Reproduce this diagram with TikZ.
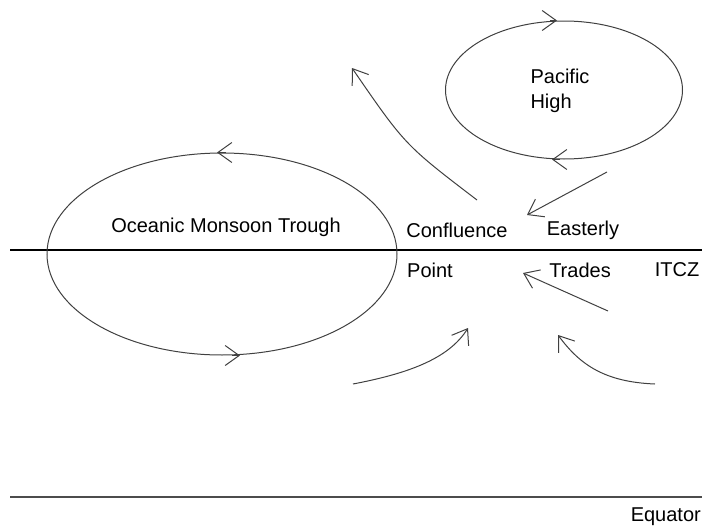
\documentclass[tikz,border=0pt]{standalone}
\usepackage{fontspec}
\setmainfont{Liberation Sans}
\usetikzlibrary{shapes.geometric, arrows.meta}

\begin{document}
\begin{tikzpicture}[x=1pt, y=-1pt]
\tikzstyle{ring}=[ellipse, draw=black!75, line width=1pt, inner sep=0pt]
\tikzstyle{flow}=[draw=black!75, line width=1pt, -{Straight Barb[length=14pt, width=20pt]}]
\tikzstyle{label}=[font=\fontsize{20}{25}\selectfont, inner sep=0pt]
\useasboundingbox (0,0) rectangle (702,530);
% boundary lines
\coordinate (I_0) at (10,250);
\coordinate (I_1) at (702,250);
\coordinate (E_0) at (10,497);
\coordinate (E_1) at (702,497);
\draw[line width=2.4pt] (I_0) -- (I_1);
\draw[black!70, line width=1.4pt] (E_0) -- (E_1);
% circulations
\node[ring, minimum width=350pt, minimum height=202pt] (MT) at (222,254) {};
\node[ring, minimum width=237pt, minimum height=138pt] (PH) at (564,90) {};
\draw[flow] ([xshift=4pt]MT.north) -- ([xshift=-5pt]MT.north);
\draw[flow] ([xshift=10pt]MT.south) -- ([xshift=18pt]MT.south);
\draw[flow] ([xshift=-14pt]PH.north) -- ([xshift=-7pt]PH.north);
\draw[flow] ([xshift=-4pt]PH.south) -- ([xshift=-12pt]PH.south);
% texts
\node[label] (T_mt) at (226,227) {Oceanic Monsoon Trough};
\node[label, align=left] (T_ph) at (560,91) {Pacific\\High};
\node[label] (T_c) at (457,230) {Confluence};
\node[label] (T_p) at (430,270) {Point};
\node[label] (T_e) at (583,230) {Easterly};
\node[label] (T_t) at (580,270) {Trades};
\node[label] (T_i) at (677,270) {ITCZ};
\node[label, anchor=east] (T_eq) at (701,517) {Equator};
% streamlines
\coordinate (A_0) at (477,200);
\coordinate (A_1) at (352,68);
\coordinate (B_0) at (607,172);
\coordinate (B_1) at (527,215);
\coordinate (C_0) at (608,311);
\coordinate (C_1) at (523,273);
\coordinate (D_0) at (353,384);
\coordinate (D_1) at (468,328);
\coordinate (F_0) at (655,384);
\coordinate (F_1) at (558,335);
\path[flow] (A_0) .. controls (405,145) .. (A_1);
\path[flow] (B_0) -- (B_1);
\path[flow] (C_0) -- (C_1);
\path[flow] (D_0) .. controls (405,374) and (448,360) .. (D_1);
\path[flow] (F_0) .. controls (605,382) and (580,365) .. (F_1);
\end{tikzpicture}
\end{document}
